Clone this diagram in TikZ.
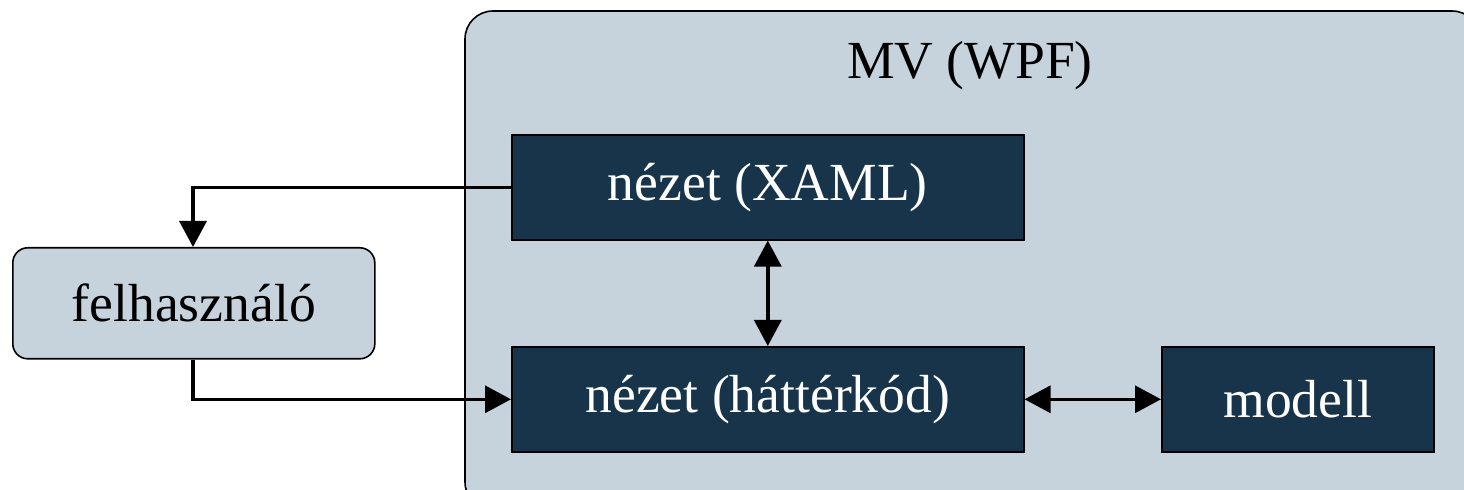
\documentclass[tikz,border=0pt]{standalone}
\usepackage{fontspec}
\setmainfont{Liberation Serif}
\usetikzlibrary{arrows.meta}
\definecolor{lightbg}{HTML}{C7D3DC}
\definecolor{darkbox}{HTML}{17344A}
\tikzset{
  bigfont/.style={font=\fontsize{26.8}{30}\selectfont},
  darkrect/.style={draw=black, line width=0.8pt, fill=darkbox, text=white, bigfont, inner sep=0pt, anchor=north west},
  lightrect/.style={draw=black, line width=0.8pt, fill=lightbg, rounded corners=7.5pt, bigfont, inner sep=0pt, anchor=north west},
  conn/.style={line width=1.7pt, -{Triangle[length=13pt,width=13.5pt]}},
  dconn/.style={line width=1.7pt, {Triangle[length=13pt,width=13.5pt]}-{Triangle[length=13pt,width=13.5pt]}}
}
\begin{document}
\begin{tikzpicture}[x=0.5pt,y=-0.5pt]
\useasboundingbox (0,0) rectangle (1464,490);
\clip (0,0) rectangle (1464,490);
\fill[white] (0,0) rectangle (1464,490);
% container
\draw[line width=0.8pt, fill=lightbg, rounded corners=14pt] (465,11) rectangle (1480,510);
\node[bigfont] (title) at (970,66) {MV (WPF)};
% boxes
\node[darkrect, minimum width=256pt, minimum height=52.5pt] (xaml) at (511,134) {nézet (XAML)};
\node[darkrect, minimum width=256pt, minimum height=52.5pt] (code) at (511,346) {nézet (háttérkód)};
\node[darkrect, minimum width=136pt, minimum height=52.5pt] (model) at (1161,346) {modell};
\node[lightrect, minimum width=181pt, minimum height=55.5pt] (user) at (12,247) {felhasználó};
% connectors
\draw[conn] (xaml.west) -| (user.north -| 193,0);
\coordinate (ub) at (193,358);
\draw[conn] (user.south -| ub) |- (code.west);
\draw[dconn] (xaml.south) -- (code.north);
\draw[dconn] (code.east) -- (model.west);
\end{tikzpicture}
\end{document}
